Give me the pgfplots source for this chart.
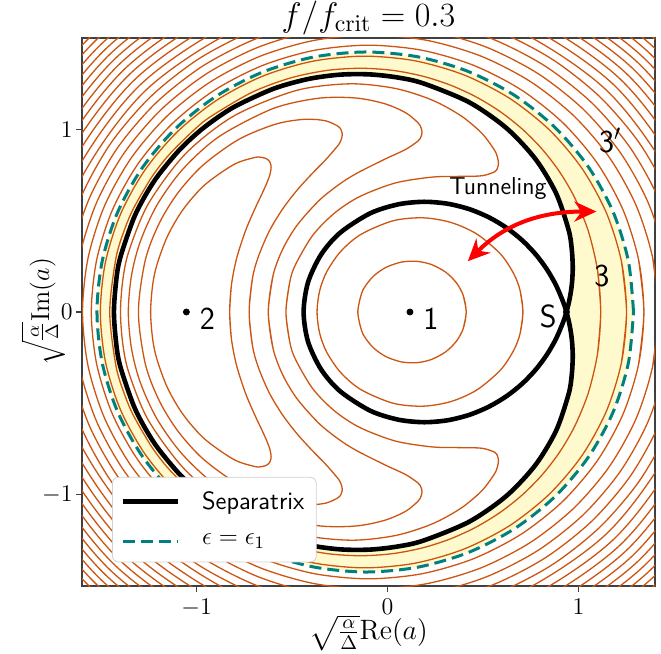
\RequirePackage{fix-cm}
\documentclass[border=0pt]{standalone}
\usepackage{amsmath}
\usepackage{pgfplots}
\pgfplotsset{compat=1.18}
\usetikzlibrary{arrows.meta}
\definecolor{contourc}{RGB}{204,85,17}
\definecolor{bandc}{RGB}{255,250,205}
\definecolor{tealc}{RGB}{0,128,128}
\pgfplotsset{cont/.style={draw=contourc, line width=0.65pt, smooth, forget plot}}
\begin{document}
\begin{tikzpicture}
\begin{axis}[
  name=ax,
  scale only axis, width=286.5pt, height=274pt,
  xmin=-1.6, xmax=1.4, ymin=-1.5, ymax=1.5,
  xtick={-1,0,1}, ytick={-1,0,1},
  tick align=outside, tick pos=left, major tick length=3pt,
  ticklabel style={font=\fontsize{12}{14}\selectfont, inner sep=1.5pt},
  xticklabel style={yshift=-2pt},
  every axis x label/.style={at={(0.5,0)}, anchor=center, yshift=-23.5pt, inner sep=0pt, font=\fontsize{14}{16}\selectfont},
  every axis title/.style={at={(0.5,1)}, anchor=center, yshift=10pt, font=\fontsize{17}{20}\selectfont},
  title={$f/f_{\mathrm{crit}} = 0.3$},
  xlabel={$\sqrt{\frac{\alpha}{\Delta}}\mathrm{Re}(a)$},
  axis line style={black!75, line width=0.6pt},
  every tick/.style={black!75, line width=0.6pt},
  legend style={at={(0.0524,0.0432)}, anchor=south west, draw=black!18, rounded corners=3pt, fill=white, font=\sffamily\fontsize{12.5}{15}\selectfont, inner xsep=4pt, inner ysep=5pt, row sep=7pt, nodes={inner sep=2pt}, cells={anchor=west}, /tikz/every odd column/.append style={column sep=9pt}},
  legend image code/.code={\draw[#1] (0pt,0pt) -- (27.5pt,0pt);},
]
% yellow band: inside eps=eps1 curve
\addplot[draw=none, fill=bandc, smooth, forget plot] coordinates {
(1.2875,0) (1.2605,0.2792) (1.1806,0.5479) (1.0508,0.7948) (0.8761,1.0106) (0.6633,1.1870) (0.4204,1.3175) (0.1570,1.3972) (-0.1171,1.4234) (-0.3911,1.3950) (-0.6545,1.3132) (-0.8974,1.1812) (-1.1102,1.0041) (-1.2849,0.7886) (-1.4147,0.5430) (-1.4946,0.2766) (-1.5216,0)
(-1.4946,-0.2766) (-1.4147,-0.5430) (-1.2849,-0.7886) (-1.1102,-1.0041) (-0.8974,-1.1812) (-0.6545,-1.3132) (-0.3911,-1.3950) (-0.1171,-1.4234) (0.1570,-1.3972) (0.4204,-1.3175) (0.6633,-1.1870) (0.8761,-1.0106) (1.0508,-0.7948) (1.1806,-0.5479) (1.2605,-0.2792) (1.2875,0)};
% white inside separatrix
\addplot[draw=none, fill=white, smooth, forget plot] coordinates {
(0.9363,0) (0.9476,0.0453) (0.9586,0.1049) (0.9658,0.1651) (0.9693,0.2461) (0.9638,0.3479) (0.9476,0.4495) (0.8826,0.6488) (0.7744,0.8369) (0.6228,1.0061) (0.4279,1.1476) (0.1897,1.2506) (0.0544,1.2834) (-0.0918,1.3006) (-0.2488,1.2993) (-0.4166,1.2753) (-0.5953,1.2230) (-0.7848,1.1332) (-0.8836,1.0697) (-0.9851,0.9898) (-1.0893,0.8880) (-1.1962,0.7544) (-1.2616,0.6506) (-1.3281,0.5160) (-1.3955,0.3126) (-1.4182,0.1971) (-1.4329,0) (-1.4182,-0.1971) (-1.3955,-0.3126) (-1.3281,-0.5160) (-1.2616,-0.6506) (-1.1962,-0.7544) (-1.0893,-0.8880) (-0.9851,-0.9898) (-0.8836,-1.0697) (-0.7848,-1.1332) (-0.5953,-1.2230) (-0.4166,-1.2753) (-0.2488,-1.2993) (-0.0918,-1.3006) (0.0544,-1.2834) (0.1897,-1.2506) (0.4279,-1.1476) (0.6228,-1.0061) (0.7744,-0.8369) (0.8826,-0.6488) (0.9476,-0.4495) (0.9638,-0.3479) (0.9693,-0.2461) (0.9658,-0.1651) (0.9586,-0.1049) (0.9476,-0.0453) (0.9363,0)};
% crescent contours around point 2
\addplot[cont] coordinates {
(-0.8180,-0.1448) (-0.8268,0) (-0.8180,0.1448) (-0.7920,0.2877) (-0.7452,0.4412) (-0.6965,0.5612) (-0.6586,0.6452) (-0.6315,0.7080) (-0.6153,0.7559) (-0.6099,0.7925) (-0.6153,0.8194) (-0.6315,0.8374) (-0.6586,0.8463) (-0.6965,0.8455) (-0.8047,0.8077) (-0.9563,0.6967) (-1.0681,0.5650) (-1.1512,0.4180) (-1.2067,0.2625) (-1.2297,0.1515) (-1.2408,0)
(-1.2297,-0.1515) (-1.2067,-0.2625) (-1.1512,-0.4180) (-1.0681,-0.5650) (-0.9563,-0.6967) (-0.8047,-0.8077) (-0.6965,-0.8455) (-0.6586,-0.8463) (-0.6315,-0.8374) (-0.6153,-0.8194) (-0.6099,-0.7925) (-0.6153,-0.7559) (-0.6315,-0.7080) (-0.6586,-0.6452) (-0.6965,-0.5612) (-0.7452,-0.4412) (-0.7920,-0.2877) (-0.8180,-0.1448) (-0.8268,0) (-0.8180,0.1448)};
\addplot[cont] coordinates {
(-0.7072,-0.1869) (-0.7249,0) (-0.7072,0.1869) (-0.6760,0.3051) (-0.6194,0.4430) (-0.5501,0.5633) (-0.4733,0.6678) (-0.3953,0.7574) (-0.3241,0.8336) (-0.2591,0.9126) (-0.2429,0.9439) (-0.2375,0.9714) (-0.2429,0.9955) (-0.2591,1.0163) (-0.3241,1.0464) (-0.4324,1.0550) (-0.5839,1.0291) (-0.7788,0.9452) (-0.9659,0.8044) (-1.0969,0.6533) (-1.1951,0.4867) (-1.2684,0.2848) (-1.3046,0)
(-1.2684,-0.2848) (-1.1951,-0.4867) (-1.0969,-0.6533) (-0.9659,-0.8044) (-0.7788,-0.9452) (-0.5839,-1.0291) (-0.4324,-1.0550) (-0.3241,-1.0464) (-0.2591,-1.0163) (-0.2429,-0.9955) (-0.2375,-0.9714) (-0.2429,-0.9439) (-0.2591,-0.9126) (-0.3241,-0.8336) (-0.3953,-0.7574) (-0.4733,-0.6678) (-0.5501,-0.5633) (-0.6194,-0.4430) (-0.6760,-0.3051) (-0.7072,-0.1869) (-0.7249,0) (-0.7072,0.1869)};
\addplot[cont] coordinates {
(-0.5995,-0.2015) (-0.6247,0) (-0.5995,0.2015) (-0.5484,0.3454) (-0.4750,0.4737) (-0.3613,0.6078) (-0.2584,0.6951) (-0.1664,0.7565) (-0.0148,0.8365) (0.0935,0.8895) (0.1584,0.9354) (0.1747,0.9589) (0.1801,0.9837) (0.1747,1.0097) (0.1584,1.0368) (0.0935,1.0915) (-0.0148,1.1401) (-0.1664,1.1715) (-0.3613,1.1702) (-0.5995,1.1138) (-0.8810,0.9612) (-1.0707,0.7834) (-1.2058,0.5883) (-1.2938,0.3888) (-1.3406,0.2022) (-1.3575,0)
(-1.3406,-0.2022) (-1.2938,-0.3888) (-1.2058,-0.5883) (-1.0707,-0.7834) (-0.8810,-0.9612) (-0.5995,-1.1138) (-0.3613,-1.1702) (-0.1664,-1.1715) (-0.0148,-1.1401) (0.0935,-1.0915) (0.1584,-1.0368) (0.1747,-1.0097) (0.1801,-0.9837) (0.1747,-0.9589) (0.1584,-0.9354) (0.0935,-0.8895) (-0.0148,-0.8365) (-0.1664,-0.7565) (-0.2584,-0.6951) (-0.3613,-0.6078) (-0.4750,-0.4737) (-0.5484,-0.3454) (-0.5995,-0.2015) (-0.6247,0) (-0.5995,0.2015)};
\addplot[cont] coordinates {
(-0.5113,-0.1691) (-0.5322,0) (-0.5113,0.1691) (-0.4807,0.2625) (-0.3917,0.4202) (-0.2791,0.5405) (-0.1481,0.6309) (0.0390,0.7060) (0.2339,0.7385) (0.3855,0.7426) (0.4937,0.7458) (0.5587,0.7667) (0.5749,0.7871) (0.5803,0.8144) (0.5749,0.8482) (0.5587,0.8876) (0.4937,0.9779) (0.3855,1.0731) (0.2339,1.1599) (0.0390,1.2241) (-0.1992,1.2491) (-0.4807,1.2120) (-0.8055,1.0729) (-1.0587,0.8656) (-1.2525,0.5927) (-1.3535,0.3364) (-1.3863,0.1763) (-1.3985,0)
(-1.3863,-0.1763) (-1.3535,-0.3364) (-1.2525,-0.5927) (-1.0587,-0.8656) (-0.8055,-1.0729) (-0.4807,-1.2120) (-0.1992,-1.2491) (0.0390,-1.2241) (0.2339,-1.1599) (0.3855,-1.0731) (0.4937,-0.9779) (0.5587,-0.8876) (0.5749,-0.8482) (0.5803,-0.8144) (0.5749,-0.7871) (0.5587,-0.7667) (0.4937,-0.7458) (0.3855,-0.7426) (0.2339,-0.7385) (0.0390,-0.7060) (-0.1481,-0.6309) (-0.2791,-0.5405) (-0.3917,-0.4202) (-0.4807,-0.2625) (-0.5113,-0.1691) (-0.5322,0) (-0.5113,0.1691)};
% contours around point 1
\addplot[cont] coordinates {
(0.6936,-0.1179) (0.7084,0) (0.6936,0.1179) (0.6603,0.2097) (0.5908,0.3177) (0.4663,0.4273) (0.3310,0.4904) (0.1848,0.5156) (0.0278,0.4992) (-0.1400,0.4247) (-0.2459,0.3310) (-0.3187,0.2202) (-0.3557,0.1161) (-0.3693,0)
(-0.3557,-0.1161) (-0.3187,-0.2202) (-0.2459,-0.3310) (-0.1400,-0.4247) (0.0278,-0.4992) (0.1848,-0.5156) (0.3310,-0.4904) (0.4663,-0.4273) (0.5908,-0.3177) (0.6603,-0.2097) (0.6936,-0.1179) (0.7084,0) (0.6936,0.1179)};
\addplot[cont] coordinates {
(0.3958,-0.0914) (0.4116,0) (0.3958,0.0914) (0.3594,0.1607) (0.3040,0.2181) (0.2287,0.2602) (0.1516,0.2775) (0.0728,0.2733) (-0.0078,0.2448) (-0.0694,0.2005) (-0.1109,0.1507) (-0.1361,0.1024) (-0.1559,0)
(-0.1361,-0.1024) (-0.1109,-0.1507) (-0.0694,-0.2005) (-0.0078,-0.2448) (0.0728,-0.2733) (0.1516,-0.2775) (0.2287,-0.2602) (0.3040,-0.2181) (0.3594,-0.1607) (0.3958,-0.0914) (0.4116,0) (0.3958,0.0914)};
% outer contours
\addplot[cont] coordinates {
(1.0995,-0.2261) (1.1157,0) (1.0995,0.2261) (1.0510,0.4421) (0.9806,0.6232) (0.8994,0.7688) (0.8074,0.8934) (0.7045,1.0018) (0.5908,1.0959) (0.4663,1.1758) (0.3310,1.2412) (0.1848,1.2907) (0.0278,1.3226) (-0.1400,1.3343) (-0.3187,1.3223) (-0.5081,1.2813) (-0.7084,1.2034) (-0.9196,1.0744) (-1.0071,1.0029) (-1.1415,0.8642) (-1.2334,0.7408) (-1.3269,0.5739) (-1.3743,0.4596) (-1.4222,0.2957) (-1.4547,0)
(-1.4222,-0.2957) (-1.3743,-0.4596) (-1.3269,-0.5739) (-1.2334,-0.7408) (-1.1415,-0.8642) (-1.0071,-1.0029) (-0.9196,-1.0744) (-0.7084,-1.2034) (-0.5081,-1.2813) (-0.3187,-1.3223) (-0.1400,-1.3343) (0.0278,-1.3226) (0.1848,-1.2907) (0.3310,-1.2412) (0.4663,-1.1758) (0.5908,-1.0959) (0.7045,-1.0018) (0.8074,-0.8934) (0.8994,-0.7688) (0.9806,-0.6232) (1.0510,-0.4421) (1.0995,-0.2261) (1.1157,0) (1.0995,0.2261)};
\addplot[cont] coordinates {
(1.2244,-0.2762) (1.2509,0) (1.2244,0.2762) (1.1461,0.5411) (1.0188,0.7842) (0.8475,0.9963) (0.6388,1.1695) (0.4006,1.2974) (0.1423,1.3753) (-0.1265,1.4005) (-0.3952,1.3721) (-0.6535,1.2914) (-0.8917,1.1614) (-1.1004,0.9871) (-1.2717,0.7753) (-1.3990,0.5339) (-1.4773,0.2721) (-1.5038,0)
(-1.4773,-0.2721) (-1.3990,-0.5339) (-1.2717,-0.7753) (-1.1004,-0.9871) (-0.8917,-1.1614) (-0.6535,-1.2914) (-0.3952,-1.3721) (-0.1265,-1.4005) (0.1423,-1.3753) (0.4006,-1.2974) (0.6388,-1.1695) (0.8475,-0.9963) (1.0188,-0.7842) (1.1461,-0.5411) (1.2244,-0.2762) (1.2509,0) (1.2244,0.2762)};
\addplot[cont] coordinates {
(1.3141,-0.2860) (1.3419,0) (1.3141,0.2860) (1.2318,0.5609) (1.0981,0.8139) (0.9182,1.0352) (0.6990,1.2165) (0.4489,1.3509) (0.1776,1.4333) (-0.1047,1.4606) (-0.3869,1.4318) (-0.6582,1.3482) (-0.9083,1.2130) (-1.1275,1.0312) (-1.3074,0.8101) (-1.4411,0.5579) (-1.5234,0.2842) (-1.5512,0)
(-1.5234,-0.2842) (-1.4411,-0.5579) (-1.3074,-0.8101) (-1.1275,-1.0312) (-0.9083,-1.2130) (-0.6582,-1.3482) (-0.3869,-1.4318) (-0.1047,-1.4606) (0.1776,-1.4333) (0.4489,-1.3509) (0.6990,-1.2165) (0.9182,-1.0352) (1.0981,-0.8139) (1.2318,-0.5609) (1.3141,-0.2860) (1.3419,0) (1.3141,0.2860)};
\addplot[cont] coordinates {
(1.3877,-0.2965) (1.4166,0) (1.3877,0.2965) (1.3019,0.5813) (1.1626,0.8437) (0.9752,1.0735) (0.7469,1.2619) (0.4864,1.4017) (0.2037,1.4876) (-0.0903,1.5164) (-0.3843,1.4869) (-0.6670,1.4003) (-0.9275,1.2600) (-1.1558,1.0714) (-1.3432,0.8417) (-1.4825,0.5797) (-1.5683,0.2954) (-1.5972,0)
(-1.5683,-0.2954) (-1.4825,-0.5797) (-1.3432,-0.8417) (-1.1558,-1.0714) (-0.9275,-1.2600) (-0.6670,-1.4003) (-0.3843,-1.4869) (-0.0903,-1.5164) (0.2037,-1.4876) (0.4864,-1.4017) (0.7469,-1.2619) (0.9752,-1.0735) (1.1626,-0.8437) (1.3019,-0.5813) (1.3877,-0.2965) (1.4166,0) (1.3877,0.2965)};
\addplot[cont] coordinates {
(1.4523,-0.3061) (1.4823,0) (1.4523,0.3061) (1.3634,0.6004) (1.2190,0.8716) (1.0248,1.1094) (0.7881,1.3045) (0.5180,1.4495) (0.2250,1.5388) (-0.0798,1.5689) (-0.3846,1.5388) (-0.6776,1.4495) (-0.9477,1.3045) (-1.1844,1.1094) (-1.3786,0.8716) (-1.5230,0.6004) (-1.6119,0.3061) (-1.6419,0)
(-1.6119,-0.3061) (-1.5230,-0.6004) (-1.3786,-0.8716) (-1.1844,-1.1094) (-0.9477,-1.3045) (-0.6776,-1.4495) (-0.3846,-1.5388) (-0.0798,-1.5689) (0.2250,-1.5388) (0.5180,-1.4495) (0.7881,-1.3045) (1.0248,-1.1094) (1.2190,-0.8716) (1.3634,-0.6004) (1.4523,-0.3061) (1.4823,0) (1.4523,0.3061)};
\addplot[cont] coordinates {
(1.5110,-0.3158) (1.5420,0) (1.5110,0.3158) (1.4192,0.6195) (1.2700,0.8994) (1.0693,1.1447) (0.8248,1.3461) (0.5458,1.4957) (0.2431,1.5878) (-0.0718,1.6189) (-0.3866,1.5878) (-0.6893,1.4957) (-0.9683,1.3461) (-1.2128,1.1447) (-1.4135,0.8994) (-1.5627,0.6195) (-1.6545,0.3158) (-1.6855,0)
(-1.6545,-0.3158) (-1.5627,-0.6195) (-1.4135,-0.8994) (-1.2128,-1.1447) (-0.9683,-1.3461) (-0.6893,-1.4957) (-0.3866,-1.5878) (-0.0718,-1.6189) (0.2431,-1.5878) (0.5458,-1.4957) (0.8248,-1.3461) (1.0693,-1.1447) (1.2700,-0.8994) (1.4192,-0.6195) (1.5110,-0.3158) (1.5420,0) (1.5110,0.3158)};
\addplot[cont] coordinates {
(1.5656,-0.3252) (1.5975,0) (1.5656,0.3252) (1.4709,0.6378) (1.3173,0.9260) (1.1105,1.1786) (0.8585,1.3858) (0.5711,1.5399) (0.2591,1.6347) (-0.0653,1.6667) (-0.3896,1.6347) (-0.7016,1.5399) (-0.9890,1.3858) (-1.2410,1.1786) (-1.4478,0.9260) (-1.6014,0.6378) (-1.6961,0.3252) (-1.7280,0)
(-1.6961,-0.3252) (-1.6014,-0.6378) (-1.4478,-0.9260) (-1.2410,-1.1786) (-0.9890,-1.3858) (-0.7016,-1.5399) (-0.3896,-1.6347) (-0.0653,-1.6667) (0.2591,-1.6347) (0.5711,-1.5399) (0.8585,-1.3858) (1.1105,-1.1786) (1.3173,-0.9260) (1.4709,-0.6378) (1.5656,-0.3252) (1.5975,0) (1.5656,0.3252)};
\addplot[cont] coordinates {(1.5195,-0.6554) (1.6496,0) (1.5195,0.6554) (1.1489,1.2111) (0.5943,1.5824) (-0.0600,1.7128) (-0.7142,1.5824) (-1.2688,1.2111) (-1.6394,0.6554) (-1.7695,0) (-1.6394,-0.6554) (-1.2688,-1.2111) (-0.7142,-1.5824) (-0.0600,-1.7128) (0.5943,-1.5824) (1.1489,-1.2111) (1.5195,-0.6554) (1.6496,0) (1.5195,0.6554)};
\addplot[cont] coordinates {(1.5656,-0.6725) (1.6992,0) (1.5656,0.6725) (1.1853,1.2425) (0.6160,1.6235) (-0.0555,1.7572) (-0.7269,1.6235) (-1.2962,1.2425) (-1.6765,0.6725) (-1.8101,0) (-1.6765,-0.6725) (-1.2962,-1.2425) (-0.7269,-1.6235) (-0.0555,-1.7572) (0.6160,-1.6235) (1.1853,-1.2425) (1.5656,-0.6725) (1.6992,0) (1.5656,0.6725)};
\addplot[cont] coordinates {(1.6096,-0.6889) (1.7465,0) (1.6096,0.6889) (1.2198,1.2730) (0.6365,1.6632) (-0.0517,1.8003) (-0.7398,1.6632) (-1.3231,1.2730) (-1.7129,0.6889) (-1.8498,0) (-1.7129,-0.6889) (-1.3231,-1.2730) (-0.7398,-1.6632) (-0.0517,-1.8003) (0.6365,-1.6632) (1.2198,-1.2730) (1.6096,-0.6889) (1.7465,0) (1.6096,0.6889)};
\addplot[cont] coordinates {(1.6519,-0.7049) (1.7920,0) (1.6519,0.7049) (1.2530,1.3026) (0.6560,1.7019) (-0.0483,1.8421) (-0.7526,1.7019) (-1.3496,1.3026) (-1.7485,0.7049) (-1.8886,0) (-1.7485,-0.7049) (-1.3496,-1.3026) (-0.7526,-1.7019) (-0.0483,-1.8421) (0.6560,-1.7019) (1.2530,-1.3026) (1.6519,-0.7049) (1.7920,0) (1.6519,0.7049)};
\addplot[cont] coordinates {(1.6927,-0.7205) (1.8359,0) (1.6927,0.7205) (1.2849,1.3314) (0.6745,1.7395) (-0.0454,1.8828) (-0.7653,1.7395) (-1.3757,1.3314) (-1.7835,0.7205) (-1.9267,0) (-1.7835,-0.7205) (-1.3757,-1.3314) (-0.7653,-1.7395) (-0.0454,-1.8828) (0.6745,-1.7395) (1.2849,-1.3314) (1.6927,-0.7205) (1.8359,0) (1.6927,0.7205)};
\addplot[cont] coordinates {(1.7322,-0.7357) (1.8784,0) (1.7322,0.7357) (1.3157,1.3595) (0.6924,1.7762) (-0.0429,1.9226) (-0.7781,1.7762) (-1.4014,1.3595) (-1.8179,0.7357) (-1.9641,0) (-1.8179,-0.7357) (-1.4014,-1.3595) (-0.7781,-1.7762) (-0.0429,-1.9226) (0.6924,-1.7762) (1.3157,-1.3595) (1.7322,-0.7357) (1.8784,0) (1.7322,0.7357)};
\addplot[cont] coordinates {(1.7705,-0.7506) (1.9197,0) (1.7705,0.7506) (1.3456,1.3869) (0.7096,1.8120) (-0.0406,1.9613) (-0.7907,1.8120) (-1.4267,1.3869) (-1.8516,0.7506) (-2.0008,0) (-1.8516,-0.7506) (-1.4267,-1.3869) (-0.7907,-1.8120) (-0.0406,-1.9613) (0.7096,-1.8120) (1.3456,-1.3869) (1.7705,-0.7506) (1.9197,0) (1.7705,0.7506)};
\addplot[cont] coordinates {(1.8076,-0.7651) (1.9597,0) (1.8076,0.7651) (1.3744,1.4137) (0.7261,1.8471) (-0.0386,1.9993) (-0.8032,1.8471) (-1.4515,1.4137) (-1.8847,0.7651) (-2.0368,0) (-1.8847,-0.7651) (-1.4515,-1.4137) (-0.8032,-1.8471) (-0.0386,-1.9993) (0.7261,-1.8471) (1.3744,-1.4137) (1.8076,-0.7651) (1.9597,0) (1.8076,0.7651)};
\addplot[cont] coordinates {(1.8439,-0.7793) (1.9988,0) (1.8439,0.7793) (1.4026,1.4400) (0.7423,1.8814) (-0.0367,2.0364) (-0.8157,1.8814) (-1.4760,1.4400) (-1.9173,0.7793) (-2.0722,0) (-1.9173,-0.7793) (-1.4760,-1.4400) (-0.8157,-1.8814) (-0.0367,-2.0364) (0.7423,-1.8814) (1.4026,-1.4400) (1.8439,-0.7793) (1.9988,0) (1.8439,0.7793)};
\addplot[cont] coordinates {(1.8793,-0.7932) (2.0370,0) (1.8793,0.7932) (1.4301,1.4657) (0.7579,1.9150) (-0.0350,2.0728) (-0.8279,1.9150) (-1.5001,1.4657) (-1.9493,0.7932) (-2.1070,0) (-1.9493,-0.7932) (-1.5001,-1.4657) (-0.8279,-1.9150) (-0.0350,-2.0728) (0.7579,-1.9150) (1.4301,-1.4657) (1.8793,-0.7932) (2.0370,0) (1.8793,0.7932)};
\addplot[cont] coordinates {(1.9139,-0.8069) (2.0743,0) (1.9139,0.8069) (1.4570,1.4910) (0.7731,1.9480) (-0.0335,2.1085) (-0.8401,1.9480) (-1.5240,1.4910) (-1.9809,0.8069) (-2.1413,0) (-1.9809,-0.8069) (-1.5240,-1.4910) (-0.8401,-1.9480) (-0.0335,-2.1085) (0.7731,-1.9480) (1.4570,-1.4910) (1.9139,-0.8069) (2.0743,0) (1.9139,0.8069)};
\addplot[cont] coordinates {(1.9477,-0.8203) (2.1108,0) (1.9477,0.8203) (1.4832,1.5157) (0.7879,1.9804) (-0.0322,2.1436) (-0.8522,1.9804) (-1.5475,1.5157) (-2.0120,0.8203) (-2.1751,0) (-2.0120,-0.8203) (-1.5475,-1.5157) (-0.8522,-1.9804) (-0.0322,-2.1436) (0.7879,-1.9804) (1.4832,-1.5157) (1.9477,-0.8203) (2.1108,0) (1.9477,0.8203)};
% separatrix
\addplot[black, line width=2.3pt, smooth] coordinates {
(0.9363,0) (0.9476,0.0453) (0.9586,0.1049) (0.9658,0.1651) (0.9693,0.2461) (0.9638,0.3479) (0.9476,0.4495) (0.8826,0.6488) (0.7744,0.8369) (0.6228,1.0061) (0.4279,1.1476) (0.1897,1.2506) (0.0544,1.2834) (-0.0918,1.3006) (-0.2488,1.2993) (-0.4166,1.2753) (-0.5953,1.2230) (-0.7848,1.1332) (-0.8836,1.0697) (-0.9851,0.9898) (-1.0893,0.8880) (-1.1962,0.7544) (-1.2616,0.6506) (-1.3281,0.5160) (-1.3955,0.3126) (-1.4182,0.1971) (-1.4329,0) (-1.4182,-0.1971) (-1.3955,-0.3126) (-1.3281,-0.5160) (-1.2616,-0.6506) (-1.1962,-0.7544) (-1.0893,-0.8880) (-0.9851,-0.9898) (-0.8836,-1.0697) (-0.7848,-1.1332) (-0.5953,-1.2230) (-0.4166,-1.2753) (-0.2488,-1.2993) (-0.0918,-1.3006) (0.0544,-1.2834) (0.1897,-1.2506) (0.4279,-1.1476) (0.6228,-1.0061) (0.7744,-0.8369) (0.8826,-0.6488) (0.9476,-0.4495) (0.9638,-0.3479) (0.9693,-0.2461) (0.9658,-0.1651) (0.9586,-0.1049) (0.9476,-0.0453) (0.9363,0)};
\addlegendentry{Separatrix}
\addplot[black, line width=2.3pt, smooth, forget plot] coordinates {
(0.9363,0) (0.9205,0.0512) (0.8826,0.1448) (0.8339,0.2336) (0.7744,0.3168) (0.7040,0.3930) (0.6228,0.4606) (0.5308,0.5180) (0.4279,0.5630) (0.3142,0.5927) (0.1897,0.6033) (0.0544,0.5891) (-0.0918,0.5400) (-0.2488,0.4337) (-0.3482,0.3143) (-0.4166,0.1625) (-0.4397,0) (-0.4166,-0.1625) (-0.3482,-0.3143) (-0.2488,-0.4337) (-0.0918,-0.5400) (0.0544,-0.5891) (0.1897,-0.6033) (0.3142,-0.5927) (0.4279,-0.5630) (0.5308,-0.5180) (0.6228,-0.4606) (0.7040,-0.3930) (0.7744,-0.3168) (0.8339,-0.2336) (0.8826,-0.1448) (0.9205,-0.0512) (0.9363,0)};
% eps = eps1
\addplot[tealc, line width=1.5pt, dash pattern=on 6pt off 3pt, smooth] coordinates {
(1.2875,0) (1.2605,0.2792) (1.1806,0.5479) (1.0508,0.7948) (0.8761,1.0106) (0.6633,1.1870) (0.4204,1.3175) (0.1570,1.3972) (-0.1171,1.4234) (-0.3911,1.3950) (-0.6545,1.3132) (-0.8974,1.1812) (-1.1102,1.0041) (-1.2849,0.7886) (-1.4147,0.5430) (-1.4946,0.2766) (-1.5216,0)
(-1.4946,-0.2766) (-1.4147,-0.5430) (-1.2849,-0.7886) (-1.1102,-1.0041) (-0.8974,-1.1812) (-0.6545,-1.3132) (-0.3911,-1.3950) (-0.1171,-1.4234) (0.1570,-1.3972) (0.4204,-1.3175) (0.6633,-1.1870) (0.8761,-1.0106) (1.0508,-0.7948) (1.1806,-0.5479) (1.2605,-0.2792) (1.2875,0)};
\addlegendentry{$\epsilon = \epsilon_1$}
% fixed points
\addplot[only marks, mark=*, mark size=1.5pt, black, forget plot] coordinates {(0.1171,0) (-1.0534,0) (0.9363,0)};
\node[font=\sffamily\fontsize{16}{19}\selectfont] at (axis cs:0.226,-0.038) {1};
\node[font=\sffamily\fontsize{16}{19}\selectfont] at (axis cs:-0.943,-0.038) {2};
\node[font=\sffamily\fontsize{16}{19}\selectfont] at (axis cs:0.841,-0.025) {S};
\node[font=\sffamily\fontsize{16}{19}\selectfont] at (axis cs:1.122,0.195) {3};
\node[font=\sffamily\fontsize{16}{19}\selectfont] at (axis cs:1.165,0.94) {3$'$};
\node[font=\sffamily\fontsize{12.2}{14}\selectfont] at (axis cs:0.578,0.676) {Tunneling};
\draw[red, line width=2pt, {Stealth[length=11pt,width=10pt]}-{Stealth[length=11pt,width=10pt]}] (axis cs:0.42,0.278) to[out=45,in=180] (axis cs:1.093,0.55);
\end{axis}
\node[rotate=90, inner sep=0pt, font=\fontsize{13}{15}\selectfont] at ([shift={(-19.5pt,137pt)}]ax.south west) {$\sqrt{\frac{\alpha}{\Delta}}\mathrm{Im}(a)$};
\pgfresetboundingbox
\path[use as bounding box] ([shift={(-41pt,-33.5pt)}]ax.south west) rectangle ([shift={(3pt,19pt)}]ax.north east);
\end{tikzpicture}
\end{document}
